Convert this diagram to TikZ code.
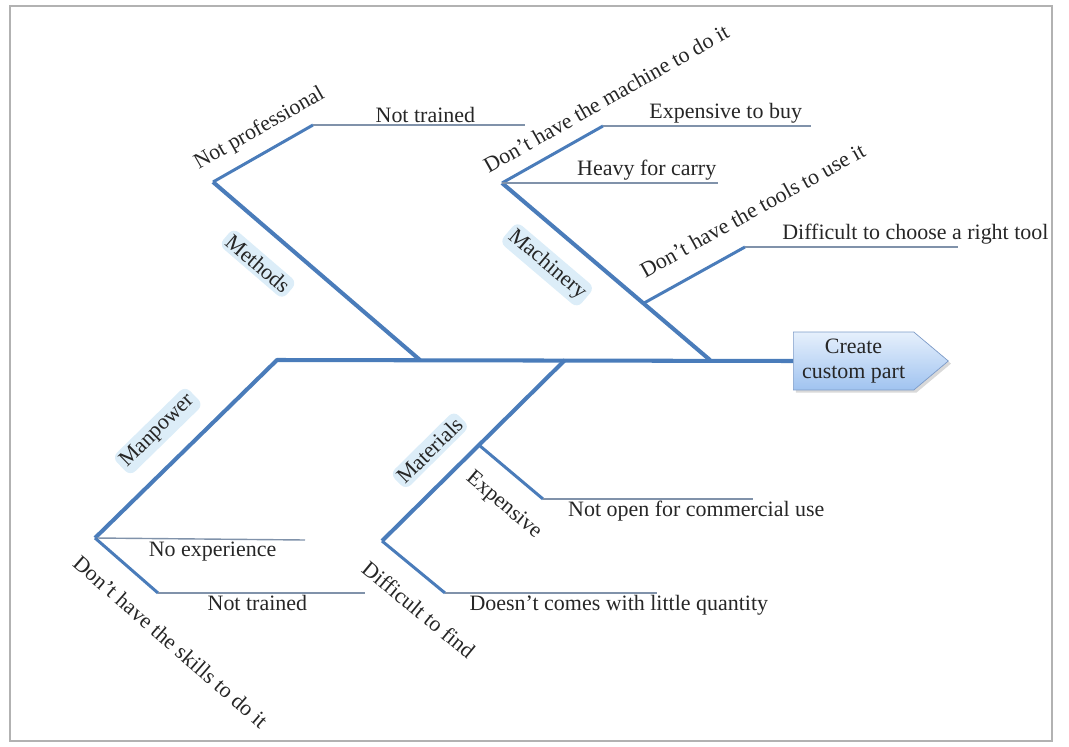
\documentclass[tikz,border=0pt]{standalone}
\usepackage{fontspec}
\setmainfont{Liberation Serif}
\usetikzlibrary{calc, shapes.symbols, shadows}

\definecolor{bonecol}{RGB}{74,124,186}
\definecolor{leafcol}{RGB}{128,146,170}
\definecolor{glowcol}{RGB}{220,237,248}
\definecolor{goalline}{RGB}{125,155,200}
\definecolor{goaltop}{RGB}{230,240,252}
\definecolor{goalbot}{RGB}{160,195,240}

\begin{document}
\begin{tikzpicture}[x=0.02cm, y=-0.02cm,
  font=\fontsize{12.5}{14}\selectfont,
  bone/.style={bonecol, line width=2.3pt, line join=round},
  twig/.style={bonecol, line width=1.7pt, line join=round},
  leaf/.style={leafcol, line width=0.8pt},
  cause/.style={inner sep=1pt, text=black!85},
  group/.style={inner sep=2pt, fill=glowcol, rounded corners=4pt, text=black!85},
  goal/.style={signal, signal to=east, signal pointer angle=80, draw=goalline,
    top color=goaltop, bottom color=goalbot, align=center, text=black!85,
    minimum height=1.16cm, minimum width=3.1cm, inner sep=2pt,
    drop shadow={shadow xshift=1.5pt, shadow yshift=-1.5pt, opacity=0.3}}]
\useasboundingbox (0,0) rectangle (1069,747);
\draw[black!30, line width=1pt] (10,6) rectangle (1052,741);

% points on the spine and the bones
\coordinate (spineL) at (277,360);
\coordinate (methJ) at (420,360);
\coordinate (matJ) at (565,360);
\coordinate (machJ) at (710,360);
\coordinate (meth) at (213,182);
\coordinate (mach) at (502,183);
\coordinate (man) at (95,538);
\coordinate (mat) at (382,541);
\coordinate (notprof) at (313,125);
\coordinate (notprofE) at (525,125);
\coordinate (machine) at (603,126);
\coordinate (machineE) at (811,126);
\coordinate (heavyE) at (718,183);
\coordinate (toolsJ) at ($(mach)!0.68!(machJ)$);
\coordinate (tools) at (745,247);
\coordinate (toolsE) at (958,247);
\coordinate (expJ) at ($(mat)!0.53!(matJ)$);
\coordinate (exp) at (543,499);
\coordinate (expE) at (753,499);
\coordinate (find) at (445,593);
\coordinate (findE) at (657,593);
\coordinate (noexpE) at (305,540);
\coordinate (skill) at (158,593);
\coordinate (skillE) at (365,593);

\node[goal, anchor=west] (goal) at (793,361) {Create\\custom part};

% main bones
\draw[bone] (man) -- node[group, sloped, above=10pt, pos=0.47] (manpower) {Manpower} (spineL) -- (goal.west);
\draw[bone] (meth) -- node[group, sloped, below=11pt, pos=0.32] (methods) {Methods} (methJ);
\draw[bone] (mach) -- node[group, sloped, below=10pt, pos=0.32] (machinery) {Machinery} (machJ);
\draw[bone] (mat) -- node[group, sloped, above=10pt, pos=0.38] (materials) {Materials} (matJ);

% methods
\draw[twig] (meth) -- node[cause, sloped, above=5.5pt, pos=0.58] (np) {Not professional} (notprof);
\draw[leaf] (notprof) -- node[cause, above, pos=0.53] (nt1) {Not trained} (notprofE);

% machinery
\draw[twig] (mach) -- node[cause, sloped, above=6.5pt, pos=1.14] (nomach) {Don't have the machine to do it} (machine);
\draw[leaf] (machine) -- node[cause, above, pos=0.59] (buy) {Expensive to buy} (machineE);
\draw[leaf] (mach) -- node[cause, above, pos=0.67] (heavy) {Heavy for carry} (heavyE);
\draw[twig] (toolsJ) -- node[cause, sloped, above=10pt, pos=1.21] (notools) {Don't have the tools to use it} (tools);
\draw[leaf] (tools) -- node[cause, above, pos=0.80] (choose) {Difficult to choose a right tool} (toolsE);

% manpower
\draw[leaf] (man) -- node[cause, below, pos=0.56] (noexp) {No experience} (noexpE);
\draw[twig] (man) -- node[cause, sloped, below=10pt, pos=1.5] (noskill) {Don't have the skills to do it} (skill);
\draw[leaf] (skill) -- node[cause, below, pos=0.48] (nt2) {Not trained} (skillE);

% materials
\draw[twig] (expJ) -- node[cause, sloped, below=10pt, pos=0.69] (expensive) {Expensive} (exp);
\draw[leaf] (exp) -- node[cause, below, pos=0.73] (commercial) {Not open for commercial use} (expE);
\draw[twig] (mat) -- node[cause, sloped, below=10.5pt, pos=0.88] (hardfind) {Difficult to find} (find);
\draw[leaf] (find) -- node[cause, below, pos=0.82] (quantity) {Doesn't comes with little quantity} (findE);
\end{tikzpicture}
\end{document}
